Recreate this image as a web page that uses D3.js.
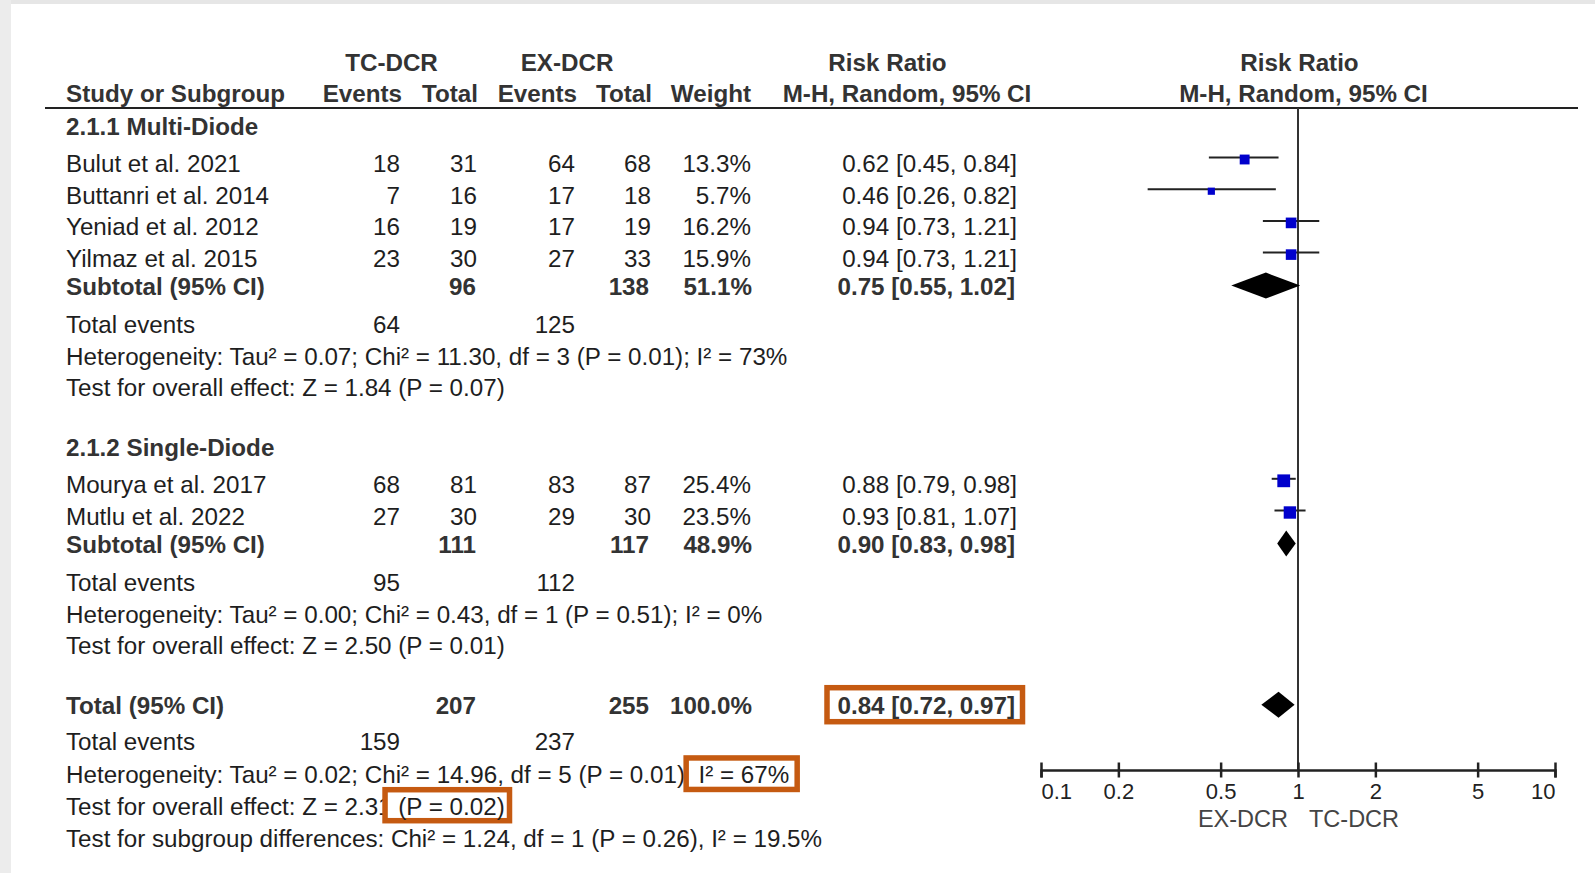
<!DOCTYPE html>
<html lang="en">
<head>
<meta charset="UTF-8">
<title>Forest plot: TC-DCR vs EX-DCR</title>
<script src="https://d3js.org/d3.v7.min.js"></script>
<style>
  body { margin: 0; background: #fff; }
  text { font-family: "Liberation Sans", Arial, sans-serif; }
</style>
</head>
<body>
<div id="chart"></div>

<script>
// Study level data
const studies   = ["Bulut et al. 2021", "Buttanri et al. 2014", "Yeniad et al. 2012", "Yilmaz et al. 2015", "Mourya et al. 2017", "Mutlu et al. 2022"];
const studyGroup = [0, 0, 0, 0, 1, 1];
const tcEvents  = [18, 7, 16, 23, 68, 27];
const tcTotal   = [31, 16, 19, 30, 81, 30];
const exEvents  = [64, 17, 17, 27, 83, 29];
const exTotal   = [68, 18, 19, 33, 87, 30];
const weights   = [13.3, 5.7, 16.2, 15.9, 25.4, 23.5];
const rr        = [0.62, 0.46, 0.94, 0.94, 0.88, 0.93];
const rrLow     = [0.45, 0.26, 0.73, 0.73, 0.79, 0.81];
const rrHigh    = [0.84, 0.82, 1.21, 1.21, 0.98, 1.07];

// Subgroups
const groupNames   = ["2.1.1 Multi-Diode", "2.1.2 Single-Diode"];
const groupTcTotal = [96, 111];
const groupExTotal = [138, 117];
const groupWeight  = [51.1, 48.9];
const groupRR      = [0.75, 0.90];
const groupLow     = [0.55, 0.83];
const groupHigh    = [1.02, 0.98];
const groupTcEv    = [64, 95];
const groupExEv    = [125, 112];
const groupHetero  = ["Heterogeneity: Tau² = 0.07; Chi² = 11.30, df = 3 (P = 0.01); I² = 73%",
                      "Heterogeneity: Tau² = 0.00; Chi² = 0.43, df = 1 (P = 0.51); I² = 0%"];
const groupTest    = ["Test for overall effect: Z = 1.84 (P = 0.07)",
                      "Test for overall effect: Z = 2.50 (P = 0.01)"];

// Overall
const totalTc = 207, totalEx = 255, totalWeight = 100.0;
const totalRR = 0.84, totalLow = 0.72, totalHigh = 0.97;
const totalTcEv = 159, totalExEv = 237;
// trailing no-break space so that it is kept when measuring
const totalHeteroPre = "Heterogeneity: Tau² = 0.02; Chi² = 14.96, df = 5 (P = 0.01);\u00A0";
const totalHeteroBox = "I² = 67%";
const totalTestPre = "Test for overall effect: Z = 2.31\u00A0";
const totalTestBox = "(P = 0.02)";
const subgroupDiff = "Test for subgroup differences: Chi² = 1.24, df = 1 (P = 0.26), I² = 19.5%";

// Axis
const axisTicks = [0.1, 0.2, 0.5, 1, 2, 5, 10];
const favoursLeft = "EX-DCR", favoursRight = "TC-DCR";

const W = 1595, H = 873;
const col = { study: 66, tcE: 400, tcT: 477, exE: 575, exT: 651, wt: 751, rr: 1017 };
const FS = 24.2;
const boxColor = "#C55A11";

const svg = d3.select("#chart").append("svg")
  .attr("width", W)
  .attr("height", H);

// page frame (grey edges of the screenshot)
svg.append("rect").attr("x", 0).attr("y", 0).attr("width", W).attr("height", 4).attr("fill", "#e6e6e6");
svg.append("rect").attr("x", 0).attr("y", 0).attr("width", 11).attr("height", H).attr("fill", "#ececec");

const x = d3.scaleLog().domain([0.1, 10]).range([1041, 1555]);
const size = d3.scaleSqrt().domain(d3.extent(weights)).range([7.2, 12.8]);

function txt(xp, yp, s, opts = {}) {
  return svg.append("text")
    .attr("x", xp)
    .attr("y", yp)
    .attr("text-anchor", opts.anchor || "start")
    .attr("font-size", opts.size || FS)
    .attr("font-weight", opts.bold ? "bold" : "normal")
    .attr("fill", opts.color || (opts.bold ? "#333" : "#1e1e1e"))
    .text(s);
}
const fmtCI = (m, l, h) => `${m.toFixed(2)} [${l.toFixed(2)}, ${h.toFixed(2)}]`;
const pct = v => v.toFixed(1) + "%";

// Header
txt(391.5, 71, "TC-DCR", { anchor: "middle", bold: true });
txt(567, 71, "EX-DCR", { anchor: "middle", bold: true });
txt(887.5, 71, "Risk Ratio", { anchor: "middle", bold: true });
txt(1299.5, 71, "Risk Ratio", { anchor: "middle", bold: true });
txt(col.study, 102, "Study or Subgroup", { bold: true });
txt(col.tcE + 2, 102, "Events", { anchor: "end", bold: true });
txt(col.tcT + 1, 102, "Total", { anchor: "end", bold: true });
txt(col.exE + 2, 102, "Events", { anchor: "end", bold: true });
txt(col.exT + 1, 102, "Total", { anchor: "end", bold: true });
txt(col.wt, 102, "Weight", { anchor: "end", bold: true });
txt(907, 102, "M-H, Random, 95% CI", { anchor: "middle", bold: true });
txt(1303.5, 102, "M-H, Random, 95% CI", { anchor: "middle", bold: true });

svg.append("line")
  .attr("x1", 45).attr("x2", 1578).attr("y1", 108).attr("y2", 108)
  .attr("stroke", "#222").attr("stroke-width", 2);

// null line
svg.append("line")
  .attr("x1", x(1)).attr("x2", x(1)).attr("y1", 108).attr("y2", 770)
  .attr("stroke", "#333").attr("stroke-width", 2);

function diamond(cy, m, l, h) {
  svg.append("path")
    .attr("d", `M${x(l)},${cy}L${x(m)},${cy - 13}L${x(h)},${cy}L${x(m)},${cy + 13}Z`)
    .attr("fill", "#000");
}

let y = 135;
groupNames.forEach((gName, gi) => {
  txt(col.study, y, gName, { bold: true });
  y += 37;
  const idx = studies.map((s, i) => i).filter(i => studyGroup[i] === gi);
  idx.forEach((i, k) => {
    if (k > 0) y += 31.7;
    txt(col.study, y, studies[i]);
    txt(col.tcE, y, tcEvents[i], { anchor: "end" });
    txt(col.tcT, y, tcTotal[i], { anchor: "end" });
    txt(col.exE, y, exEvents[i], { anchor: "end" });
    txt(col.exT, y, exTotal[i], { anchor: "end" });
    txt(col.wt, y, pct(weights[i]), { anchor: "end" });
    txt(col.rr, y, fmtCI(rr[i], rrLow[i], rrHigh[i]), { anchor: "end" });
    const ly = y - 14.5;
    svg.append("line")
      .attr("x1", x(rrLow[i])).attr("x2", x(rrHigh[i]))
      .attr("y1", ly).attr("y2", ly)
      .attr("stroke", "#222").attr("stroke-width", 2);
    const s = size(weights[i]);
    svg.append("rect")
      .attr("x", x(rr[i]) - s / 2).attr("y", ly + 2 - s / 2)
      .attr("width", s).attr("height", s)
      .attr("fill", "#0000cc");
  });
  y += 28;
  txt(col.study, y, "Subtotal (95% CI)", { bold: true });
  txt(col.tcT - 1, y, groupTcTotal[gi], { anchor: "end", bold: true });
  txt(col.exT - 2, y, groupExTotal[gi], { anchor: "end", bold: true });
  txt(col.wt + 1, y, pct(groupWeight[gi]), { anchor: "end", bold: true });
  txt(col.rr - 2, y, fmtCI(groupRR[gi], groupLow[gi], groupHigh[gi]), { anchor: "end", bold: true });
  diamond(y - 9.5, groupRR[gi], groupLow[gi], groupHigh[gi]);
  y += 37.5;
  txt(col.study, y, "Total events");
  txt(col.tcE, y, groupTcEv[gi], { anchor: "end" });
  txt(col.exE, y, groupExEv[gi], { anchor: "end" });
  y += 32;
  txt(col.study, y, groupHetero[gi]);
  y += 31.7;
  txt(col.study, y, groupTest[gi]);
  y += 60;
});

// Overall total
txt(col.study, y, "Total (95% CI)", { bold: true });
txt(col.tcT - 1, y, totalTc, { anchor: "end", bold: true });
txt(col.exT - 2, y, totalEx, { anchor: "end", bold: true });
txt(col.wt + 1, y, pct(totalWeight), { anchor: "end", bold: true });
const totRRText = txt(col.rr - 2, y, fmtCI(totalRR, totalLow, totalHigh), { anchor: "end", bold: true });
diamond(y - 9.5, totalRR, totalLow, totalHigh);
{
  const w = totRRText.node().getComputedTextLength();
  const x0 = col.rr - 2 - w;
  svg.insert("rect", () => totRRText.node())
    .attr("x", x0 - 10.5).attr("y", y - 26.5)
    .attr("width", w + 18).attr("height", 34)
    .attr("fill", "#fff").attr("stroke", boxColor).attr("stroke-width", 5.5);
}
y += 36;
txt(col.study, y, "Total events");
txt(col.tcE, y, totalTcEv, { anchor: "end" });
txt(col.exE, y, totalExEv, { anchor: "end" });
y += 33;

// text line with a highlighted (boxed) tail; the box hides what lies under its frame
function boxedLine(yp, pre, boxed, padL, padR, top, h) {
  const t = txt(col.study, yp, pre);
  const x0 = col.study + t.node().getComputedTextLength();
  const b = txt(x0, yp, boxed);
  const w = b.node().getComputedTextLength();
  svg.insert("rect", () => b.node())
    .attr("x", x0 - padL).attr("y", yp - top)
    .attr("width", w + padL + padR).attr("height", h)
    .attr("fill", "#fff").attr("stroke", boxColor).attr("stroke-width", 5.5);
}
boxedLine(y, totalHeteroPre, totalHeteroBox, 12.25, 8, 25.25, 31.5);
y += 32;
boxedLine(y, totalTestPre, totalTestBox, 13.25, 4.75, 25.5, 31);
y += 32;
txt(col.study, y, subgroupDiff);

// Axis
const axisY = 770;
const axis = svg.append("g")
  .attr("transform", `translate(0,${axisY})`)
  .call(d3.axisBottom(x).tickValues(axisTicks).tickSizeOuter(0).tickSize(7.5).tickFormat(d3.format("")));
axis.select(".domain").attr("stroke", "#222").attr("stroke-width", 2.5);
axis.selectAll(".tick line").attr("y1", -7.5).attr("y2", 7.5).attr("stroke", "#222").attr("stroke-width", 2.5);
axis.selectAll(".tick text")
  .attr("y", 29).attr("dy", null)
  .attr("font-size", 22).attr("fill", "#222")
  .attr("font-family", "\"Liberation Sans\", Arial, sans-serif")
  .attr("text-anchor", d => d === axisTicks[0] ? "start" : d === axisTicks[axisTicks.length - 1] ? "end" : "middle");

txt(x(1) - 10, 827, favoursLeft, { anchor: "end", size: 23.5, color: "#444" });
txt(x(1) + 11, 827, favoursRight, { anchor: "start", size: 23.5, color: "#444" });
</script>
</body>
</html>
